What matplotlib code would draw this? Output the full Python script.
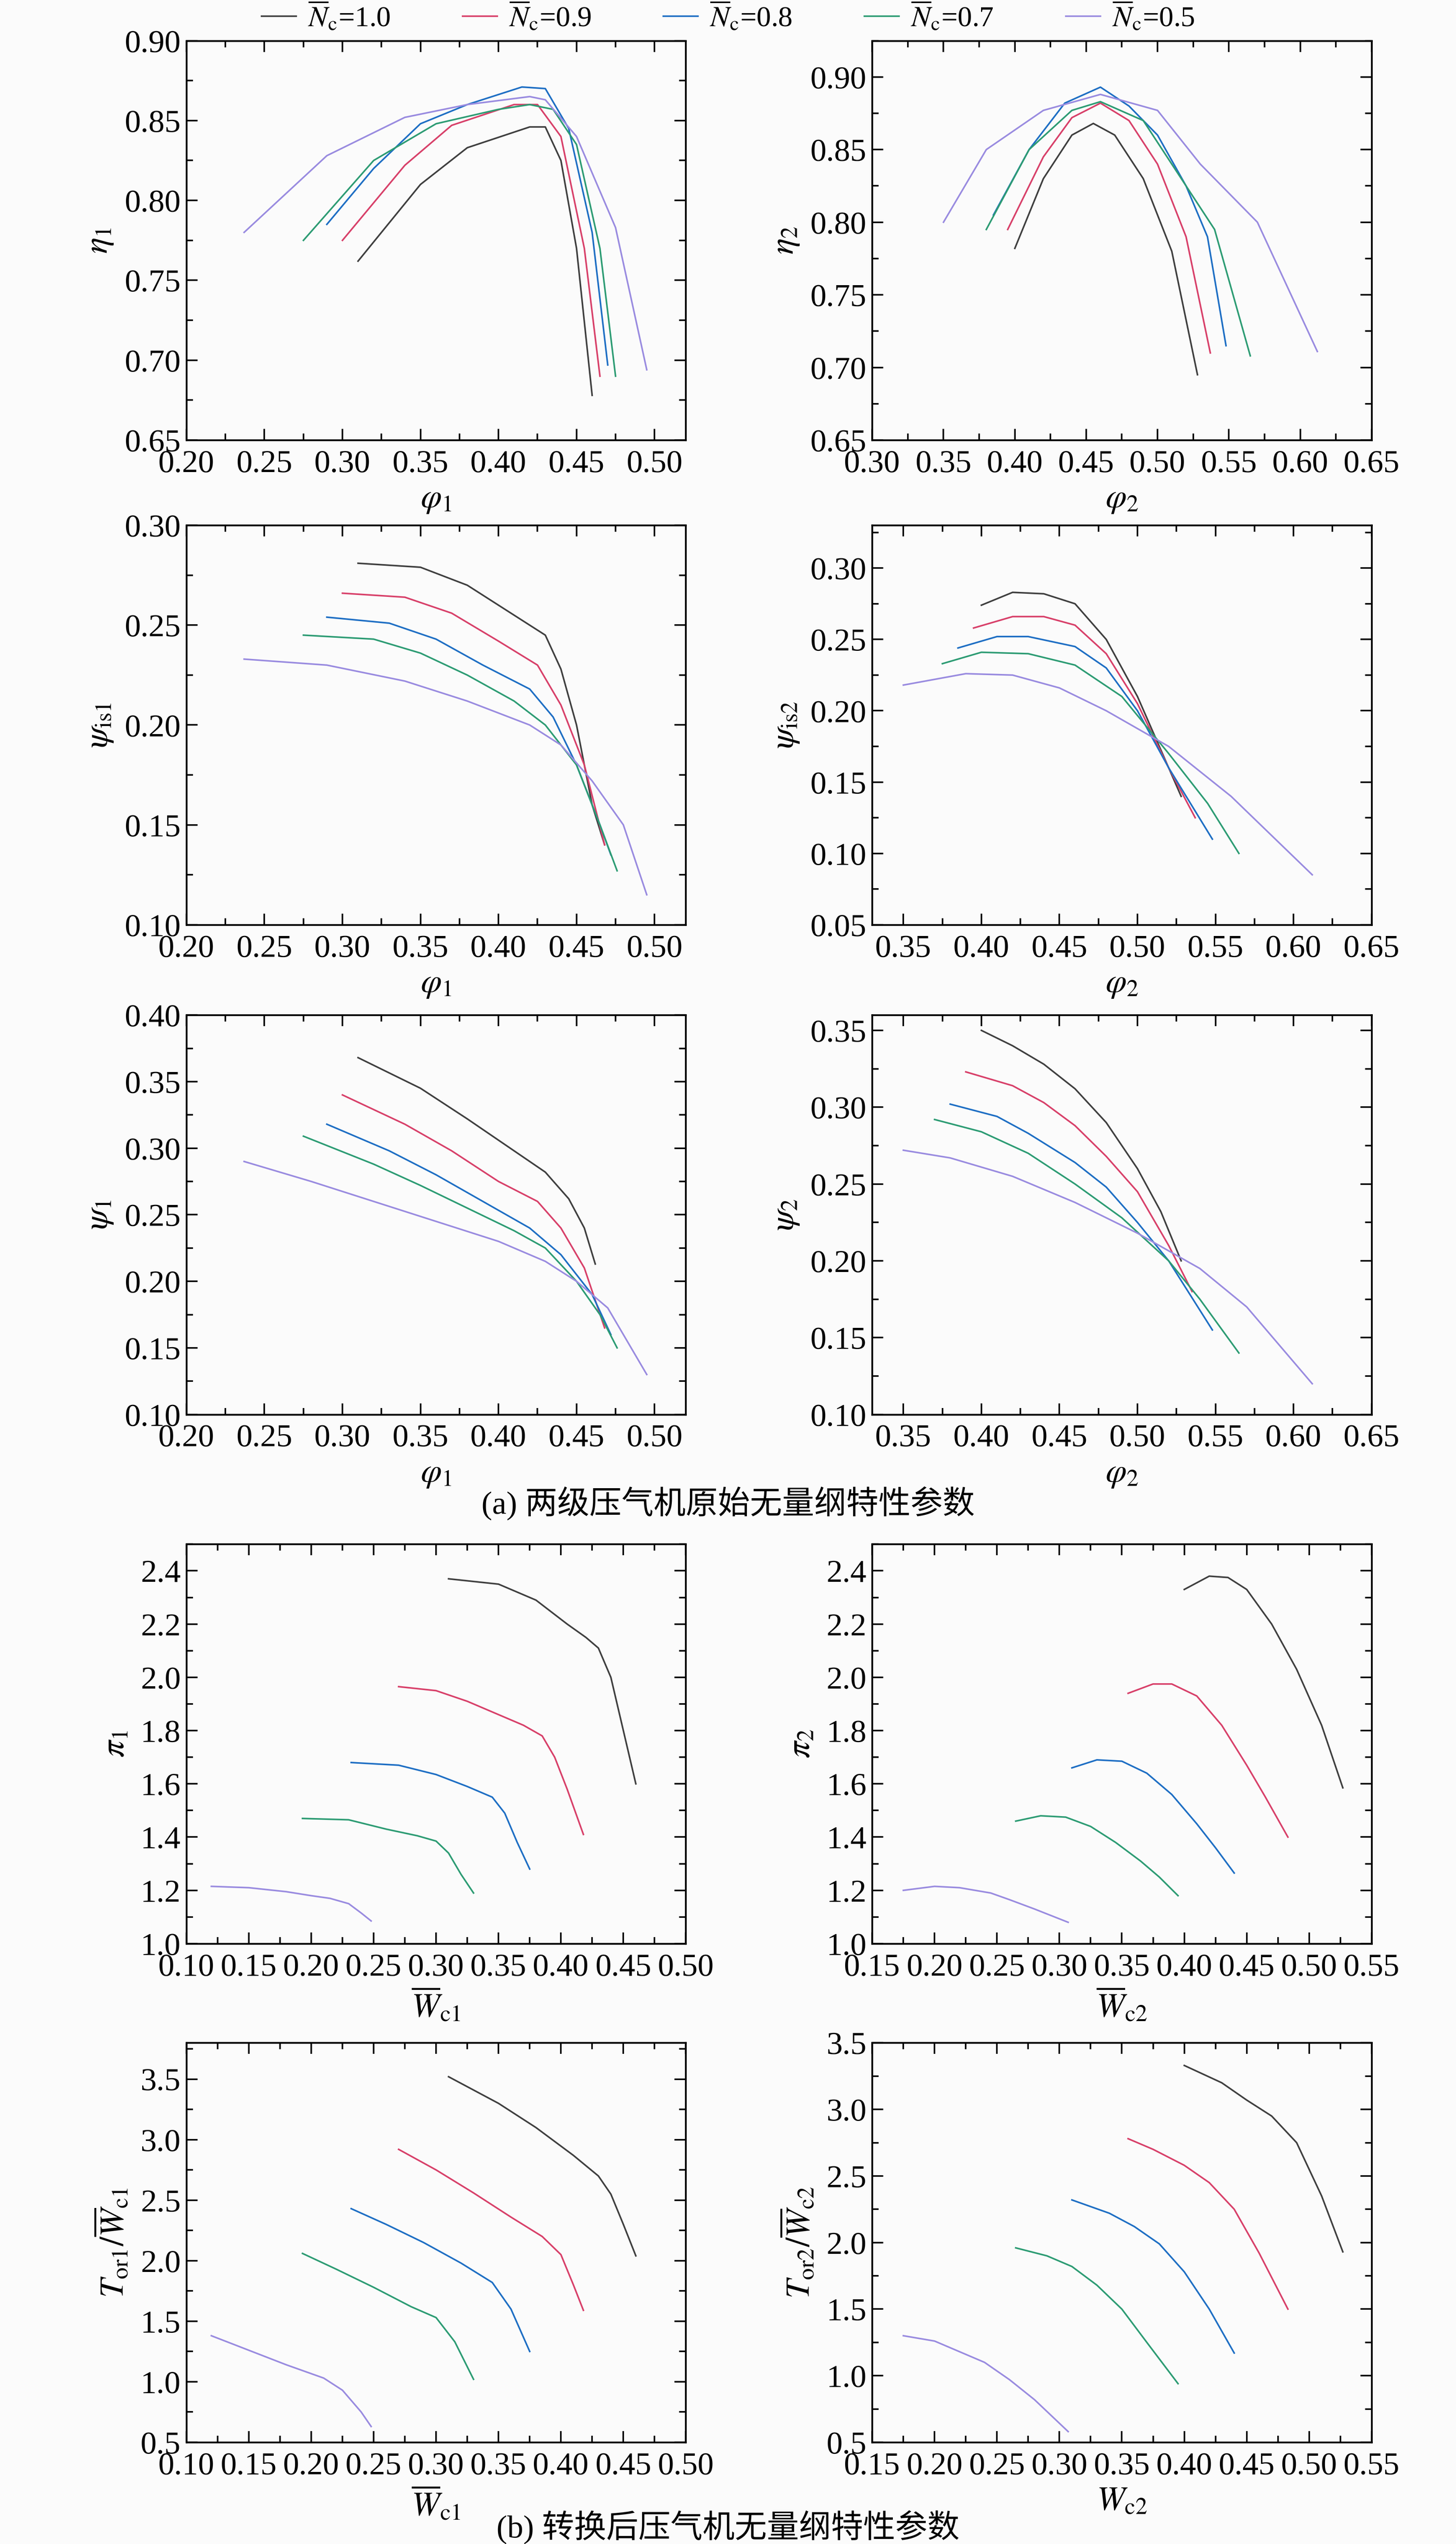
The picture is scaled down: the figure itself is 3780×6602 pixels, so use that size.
import numpy as np
import matplotlib.pyplot as plt
from matplotlib.ticker import AutoMinorLocator, MultipleLocator

plt.rcParams['font.family'] = ['serif', 'Noto Sans CJK SC']
plt.rcParams['font.serif'] = ['Liberation Serif', 'Times New Roman', 'DejaVu Serif']
plt.rcParams['mathtext.fontset'] = 'stix'
plt.rcParams['axes.unicode_minus'] = False

speeds = ['1.0', '0.9', '0.8', '0.7', '0.5']
colors = ['#404040', '#d8416a', '#1f6fc4', '#2e9c74', '#9a8ce0']

# eta1 vs phi1
eta1_x = [[0.31, 0.35, 0.38, 0.42, 0.43, 0.44, 0.45, 0.46],
          [0.30, 0.34, 0.37, 0.41, 0.425, 0.44, 0.455, 0.465],
          [0.29, 0.32, 0.35, 0.38, 0.415, 0.43, 0.445, 0.46, 0.47],
          [0.275, 0.32, 0.36, 0.40, 0.42, 0.435, 0.45, 0.465, 0.475],
          [0.237, 0.29, 0.34, 0.38, 0.42, 0.43, 0.45, 0.475, 0.495]]
eta1_y = [[0.762, 0.81, 0.833, 0.846, 0.846, 0.825, 0.77, 0.678],
          [0.775, 0.822, 0.847, 0.86, 0.86, 0.84, 0.77, 0.69],
          [0.785, 0.82, 0.848, 0.86, 0.871, 0.87, 0.845, 0.78, 0.697],
          [0.775, 0.825, 0.848, 0.857, 0.86, 0.857, 0.835, 0.77, 0.69],
          [0.78, 0.828, 0.852, 0.86, 0.865, 0.863, 0.84, 0.783, 0.694]]

# eta2 vs phi2
eta2_x = [[0.40, 0.42, 0.44, 0.455, 0.47, 0.49, 0.51, 0.528],
          [0.395, 0.42, 0.44, 0.46, 0.48, 0.50, 0.52, 0.537],
          [0.385, 0.41, 0.435, 0.46, 0.48, 0.50, 0.52, 0.535, 0.548],
          [0.38, 0.41, 0.44, 0.46, 0.49, 0.51, 0.54, 0.565],
          [0.35, 0.38, 0.42, 0.46, 0.50, 0.53, 0.57, 0.612]]
eta2_y = [[0.782, 0.83, 0.86, 0.868, 0.86, 0.83, 0.78, 0.695],
          [0.795, 0.845, 0.872, 0.882, 0.87, 0.84, 0.79, 0.71],
          [0.805, 0.85, 0.882, 0.893, 0.88, 0.86, 0.825, 0.79, 0.715],
          [0.795, 0.85, 0.877, 0.883, 0.87, 0.84, 0.795, 0.708],
          [0.80, 0.85, 0.877, 0.888, 0.877, 0.84, 0.80, 0.711]]

# psi_is1 vs phi1
psis1_x = [[0.31, 0.35, 0.38, 0.41, 0.43, 0.44, 0.45, 0.46, 0.468],
           [0.30, 0.34, 0.37, 0.40, 0.425, 0.44, 0.455, 0.468],
           [0.29, 0.33, 0.36, 0.39, 0.42, 0.435, 0.45, 0.465, 0.472],
           [0.275, 0.32, 0.35, 0.38, 0.41, 0.43, 0.45, 0.465, 0.476],
           [0.237, 0.29, 0.34, 0.38, 0.42, 0.44, 0.46, 0.48, 0.495]]
psis1_y = [[0.281, 0.279, 0.27, 0.255, 0.245, 0.228, 0.2, 0.16, 0.14],
           [0.266, 0.264, 0.256, 0.242, 0.23, 0.21, 0.18, 0.14],
           [0.254, 0.251, 0.243, 0.23, 0.218, 0.204, 0.18, 0.15, 0.135],
           [0.245, 0.243, 0.236, 0.225, 0.212, 0.2, 0.18, 0.15, 0.127],
           [0.233, 0.23, 0.222, 0.212, 0.2, 0.19, 0.172, 0.15, 0.115]]

# psi_is2 vs phi2
psis2_x = [[0.40, 0.42, 0.44, 0.46, 0.48, 0.50, 0.52, 0.528],
           [0.395, 0.42, 0.44, 0.46, 0.48, 0.50, 0.52, 0.537],
           [0.385, 0.41, 0.43, 0.46, 0.48, 0.50, 0.52, 0.548],
           [0.375, 0.40, 0.43, 0.46, 0.49, 0.52, 0.545, 0.565],
           [0.35, 0.39, 0.42, 0.45, 0.48, 0.52, 0.56, 0.612]]
psis2_y = [[0.274, 0.283, 0.282, 0.275, 0.25, 0.21, 0.16, 0.14],
           [0.258, 0.266, 0.266, 0.26, 0.24, 0.205, 0.16, 0.125],
           [0.244, 0.252, 0.252, 0.245, 0.23, 0.2, 0.16, 0.11],
           [0.233, 0.241, 0.24, 0.232, 0.21, 0.17, 0.135, 0.1],
           [0.218, 0.226, 0.225, 0.216, 0.2, 0.175, 0.14, 0.085]]

# psi1 vs phi1
psi1_x = [[0.31, 0.35, 0.38, 0.41, 0.43, 0.445, 0.455, 0.462],
          [0.30, 0.34, 0.37, 0.40, 0.425, 0.44, 0.455, 0.468],
          [0.29, 0.33, 0.36, 0.39, 0.42, 0.44, 0.46, 0.472],
          [0.275, 0.32, 0.35, 0.38, 0.41, 0.43, 0.45, 0.465, 0.476],
          [0.237, 0.28, 0.32, 0.36, 0.40, 0.43, 0.45, 0.47, 0.495]]
psi1_y = [[0.368, 0.345, 0.322, 0.298, 0.282, 0.262, 0.24, 0.213],
          [0.34, 0.318, 0.298, 0.275, 0.26, 0.24, 0.21, 0.165],
          [0.318, 0.298, 0.28, 0.26, 0.24, 0.22, 0.19, 0.16],
          [0.309, 0.288, 0.272, 0.255, 0.238, 0.225, 0.2, 0.175, 0.15],
          [0.29, 0.275, 0.26, 0.245, 0.23, 0.215, 0.2, 0.18, 0.13]]

# psi2 vs phi2
psi2_x = [[0.40, 0.42, 0.44, 0.46, 0.48, 0.50, 0.515, 0.528],
          [0.39, 0.42, 0.44, 0.46, 0.48, 0.50, 0.52, 0.535],
          [0.38, 0.41, 0.43, 0.46, 0.48, 0.50, 0.52, 0.548],
          [0.37, 0.40, 0.43, 0.46, 0.49, 0.52, 0.54, 0.565],
          [0.35, 0.38, 0.42, 0.46, 0.50, 0.54, 0.57, 0.612]]
psi2_y = [[0.35, 0.34, 0.328, 0.312, 0.29, 0.26, 0.232, 0.2],
          [0.323, 0.314, 0.303, 0.288, 0.268, 0.245, 0.21, 0.18],
          [0.302, 0.294, 0.283, 0.264, 0.248, 0.225, 0.2, 0.155],
          [0.292, 0.284, 0.27, 0.25, 0.228, 0.2, 0.175, 0.14],
          [0.272, 0.267, 0.255, 0.238, 0.218, 0.195, 0.17, 0.12]]

# pi1 vs Wc1
pi1_x = [[0.31, 0.35, 0.38, 0.405, 0.42, 0.43, 0.44, 0.45, 0.46],
         [0.27, 0.30, 0.325, 0.35, 0.37, 0.385, 0.395, 0.405, 0.418],
         [0.232, 0.27, 0.30, 0.325, 0.345, 0.355, 0.365, 0.375],
         [0.193, 0.23, 0.26, 0.285, 0.30, 0.31, 0.32, 0.33],
         [0.12, 0.15, 0.18, 0.20, 0.215, 0.23, 0.24, 0.248]]
pi1_y = [[2.37, 2.35, 2.29, 2.2, 2.15, 2.11, 2.0, 1.8, 1.6],
         [1.965, 1.95, 1.91, 1.86, 1.82, 1.78, 1.7, 1.58, 1.41],
         [1.68, 1.67, 1.635, 1.59, 1.55, 1.49, 1.38, 1.28],
         [1.47, 1.465, 1.43, 1.405, 1.385, 1.34, 1.26, 1.19],
         [1.215, 1.21, 1.195, 1.18, 1.17, 1.15, 1.115, 1.085]]

# pi2 vs Wc2
pi2_x = [[0.40, 0.42, 0.435, 0.45, 0.47, 0.49, 0.51, 0.527],
         [0.355, 0.375, 0.39, 0.41, 0.43, 0.45, 0.465, 0.483],
         [0.31, 0.33, 0.35, 0.37, 0.39, 0.41, 0.425, 0.44],
         [0.265, 0.285, 0.305, 0.325, 0.345, 0.365, 0.38, 0.395],
         [0.175, 0.20, 0.22, 0.245, 0.26, 0.28, 0.307]]
pi2_y = [[2.33, 2.38, 2.375, 2.33, 2.2, 2.03, 1.82, 1.585],
         [1.94, 1.975, 1.975, 1.93, 1.82, 1.67, 1.55, 1.4],
         [1.66, 1.69, 1.685, 1.64, 1.56, 1.45, 1.36, 1.265],
         [1.46, 1.48, 1.475, 1.44, 1.38, 1.31, 1.25, 1.18],
         [1.2, 1.215, 1.21, 1.19, 1.165, 1.13, 1.08]]

# Tor1/Wc1 vs Wc1
tor1_x = [[0.31, 0.35, 0.38, 0.41, 0.43, 0.44, 0.45, 0.46],
          [0.27, 0.30, 0.33, 0.36, 0.385, 0.40, 0.41, 0.418],
          [0.232, 0.26, 0.29, 0.32, 0.345, 0.36, 0.375],
          [0.193, 0.22, 0.25, 0.28, 0.30, 0.315, 0.33],
          [0.12, 0.15, 0.18, 0.21, 0.225, 0.24, 0.248]]
tor1_y = [[3.52, 3.3, 3.1, 2.87, 2.7, 2.55, 2.3, 2.04],
          [2.92, 2.75, 2.56, 2.36, 2.2, 2.05, 1.8, 1.59],
          [2.43, 2.3, 2.15, 1.98, 1.82, 1.6, 1.25],
          [2.06, 1.93, 1.78, 1.62, 1.53, 1.33, 1.02],
          [1.38, 1.26, 1.14, 1.03, 0.93, 0.75, 0.63]]

# Tor2/Wc2 vs Wc2
tor2_x = [[0.40, 0.43, 0.45, 0.47, 0.49, 0.51, 0.527],
          [0.355, 0.375, 0.40, 0.42, 0.44, 0.46, 0.483],
          [0.31, 0.34, 0.36, 0.38, 0.40, 0.42, 0.44],
          [0.265, 0.29, 0.31, 0.33, 0.35, 0.37, 0.395],
          [0.175, 0.20, 0.22, 0.24, 0.26, 0.28, 0.307]]
tor2_y = [[3.33, 3.2, 3.07, 2.95, 2.75, 2.35, 1.93],
          [2.78, 2.7, 2.58, 2.45, 2.25, 1.92, 1.5],
          [2.32, 2.22, 2.12, 1.99, 1.78, 1.5, 1.17],
          [1.96, 1.9, 1.82, 1.68, 1.5, 1.25, 0.94],
          [1.3, 1.26, 1.18, 1.1, 0.97, 0.82, 0.58]]

panels = [
    (eta1_x, eta1_y, r'$\varphi_1$', r'$\eta_1$', (0.2, 0.52), (0.65, 0.90), 0.05, 0.05),
    (eta2_x, eta2_y, r'$\varphi_2$', r'$\eta_2$', (0.3, 0.65), (0.65, 0.925), 0.05, 0.05),
    (psis1_x, psis1_y, r'$\varphi_1$', r'$\psi_{\rm is1}$', (0.2, 0.52), (0.10, 0.30), 0.05, 0.05),
    (psis2_x, psis2_y, r'$\varphi_2$', r'$\psi_{\rm is2}$', (0.33, 0.65), (0.05, 0.33), 0.05, 0.05),
    (psi1_x, psi1_y, r'$\varphi_1$', r'$\psi_1$', (0.2, 0.52), (0.10, 0.40), 0.05, 0.05),
    (psi2_x, psi2_y, r'$\varphi_2$', r'$\psi_2$', (0.33, 0.65), (0.10, 0.36), 0.05, 0.05),
    (pi1_x, pi1_y, r'$\overline{W}_{\rm c1}$', r'$\pi_1$', (0.1, 0.5), (1.0, 2.5), 0.05, 0.2),
    (pi2_x, pi2_y, r'$\overline{W}_{\rm c2}$', r'$\pi_2$', (0.15, 0.55), (1.0, 2.5), 0.05, 0.2),
    (tor1_x, tor1_y, r'$\overline{W}_{\rm c1}$', r'$T_{\rm or1}/\overline{W}_{\rm c1}$', (0.1, 0.5), (0.5, 3.8), 0.05, 0.5),
    (tor2_x, tor2_y, r'$W_{\rm c2}$', r'$T_{\rm or2}/\overline{W}_{\rm c2}$', (0.15, 0.55), (0.5, 3.5), 0.05, 0.5),
]

fig = plt.figure(figsize=(12.6, 22.007), dpi=300, facecolor='#fbfbfb')
bottoms = [0.827, 0.6365, 0.444, 0.236, 0.040]
lefts = [0.128, 0.599]
ax_h = 0.157
fs = 20

for i, (xs, ys, xl, yl, xlim, ylim, xstep, ystep) in enumerate(panels):
    ax = fig.add_axes([lefts[i % 2], bottoms[i // 2], 0.343, ax_h])
    ax.set_facecolor('#fbfbfb')
    for k in range(5):
        ax.plot(xs[k], ys[k], color=colors[k], lw=1.0,
                label=r'$\overline{N}_{\rm c}$=' + speeds[k])
    ax.set_xlim(*xlim)
    ax.set_ylim(*ylim)
    ax.xaxis.set_major_locator(MultipleLocator(xstep))
    ax.yaxis.set_major_locator(MultipleLocator(ystep))
    ax.xaxis.set_minor_locator(AutoMinorLocator(2))
    ax.yaxis.set_minor_locator(AutoMinorLocator(2))
    ax.xaxis.set_major_formatter(plt.FuncFormatter(lambda v, p: f'{v:.2f}'))
    if ystep < 0.1:
        ax.yaxis.set_major_formatter(plt.FuncFormatter(lambda v, p: f'{v:.2f}'))
    else:
        ax.yaxis.set_major_formatter(plt.FuncFormatter(lambda v, p: f'{v:.1f}'))
    ax.tick_params(which='both', direction='in', top=True, right=True, labelsize=fs)
    ax.tick_params(which='major', length=7, width=1)
    ax.tick_params(which='minor', length=4, width=1)
    ax.tick_params(axis='x', pad=6)
    for s in ax.spines.values():
        s.set_linewidth(1.1)
    ax.set_xlabel(xl, fontsize=fs + 1, labelpad=3)
    ax.set_ylabel(yl, fontsize=fs + 1, labelpad=6)
    if i == 0:
        handles, labels = ax.get_legend_handles_labels()

fig.legend(handles, labels, loc='center', bbox_to_anchor=(0.5, 0.9935), ncol=5,
           frameon=False, fontsize=fs - 2, handlelength=1.2, columnspacing=2.5,
           handletextpad=0.4, borderpad=0)

fig.text(0.5, 0.409, '(a) 两级压气机原始无量纲特性参数', ha='center', va='center', fontsize=fs)
fig.text(0.5, 0.0065, '(b) 转换后压气机无量纲特性参数', ha='center', va='center', fontsize=fs)

fig.savefig('out.png', dpi=300, facecolor=fig.get_facecolor())
